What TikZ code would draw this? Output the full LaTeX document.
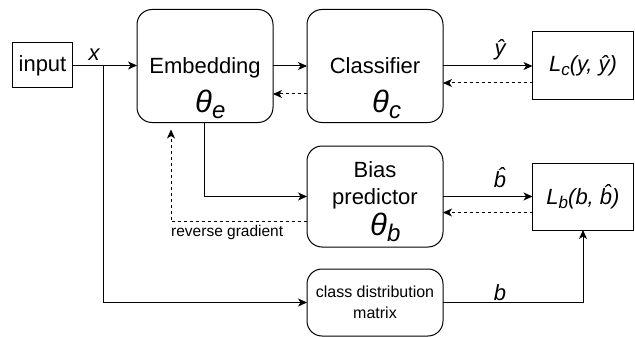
\documentclass[tikz,border=0pt]{standalone}
\usepackage{fontspec}
\setmainfont{Liberation Sans}
\usetikzlibrary{arrows.meta,calc}
\newcommand{\thsub}[1]{\textit{θ}\raisebox{-6pt}{\fontsize{24}{24}\selectfont\textit{#1}}}
\newcommand{\Lsub}[1]{\textit{L}\raisebox{-4pt}{\fontsize{17}{17}\selectfont\textit{#1}}}
\tikzset{
  arr/.style={line width=1pt,-{Stealth[length=9pt,width=8pt,inset=2.5pt]}},
  darr/.style={arr,dash pattern=on 3pt off 3pt},
  sqbox/.style={draw,line width=1pt,inner sep=0pt,outer sep=0pt},
  rbox/.style={sqbox,rounded corners=15pt},
  big/.style={font=\fontsize{22}{26}\selectfont},
  lab/.style={font=\fontsize{22}{26}\selectfont\itshape,inner sep=0pt},
  theta/.style={font=\fontsize{31}{32}\selectfont,inner sep=0pt,anchor=base west},
  small/.style={font=\fontsize{16}{19}\selectfont,inner sep=0pt}
}
\begin{document}
\begin{tikzpicture}[x=1pt,y=-1pt]
\useasboundingbox (0,0) rectangle (635,337);
% boxes
\node[sqbox,big,minimum width=60pt,minimum height=45pt] (input) at (42.5,65.5) {input};
\node[rbox,minimum width=136pt,minimum height=113pt] (emb) at (205,66) {};
\node[rbox,minimum width=136pt,minimum height=113pt] (cls) at (375,66) {};
\node[sqbox,lab,minimum width=101pt,minimum height=68pt] (Lc) at (583,66) {\Lsub{c}(y, ŷ)};
\node[rbox,minimum width=136pt,minimum height=101pt] (bias) at (375,196.5) {};
\node[sqbox,lab,minimum width=101pt,minimum height=67pt] (Lb) at (583,196.5) {\Lsub{b}(b, \^{b})};
\node[rbox,small,align=center,minimum width=136pt,minimum height=67pt] (cdm) at (375,302.5) {class distribution\\[2pt]matrix};
% texts inside boxes
\node[big,inner sep=0pt,anchor=base] (embt) at (205,74) {Embedding};
\node[theta] (embth) at (195,112) {\thsub{e}};
\node[big,inner sep=0pt,anchor=base] (clst) at (375,74) {Classifier};
\node[theta] (clsth) at (372,112) {\thsub{c}};
\node[big,inner sep=0pt,anchor=base] (biast1) at (375,177) {Bias};
\node[big,inner sep=0pt,anchor=base] (biast2) at (375,204) {predictor};
\node[theta] (biasth) at (370,235) {\thsub{b}};
% connectors
\path (input.east) -- (input.east -| emb.west) coordinate[pos=0.473] (xs);
\draw[arr] (input.east) -- (input.east -| emb.west);
\draw[arr] (xs) |- (cdm.west);
\draw[arr] (emb.east) -- (cls.west);
\draw[arr] (cls.east) -- (cls.east -| Lc.west);
\draw[darr] ([yshift=-17pt]Lc.west) -- ([yshift=-17pt]Lc.west -| cls.east);
\draw[darr] ([yshift=-28pt]cls.west) -- ([yshift=-28pt]cls.west -| emb.east);
\draw[arr] ([xshift=-0.5pt]emb.south) |- (bias.west);
\draw[arr] (bias.east) -- (bias.east -| Lb.west);
\draw[darr] ([yshift=-16pt]Lb.west) -- ([yshift=-16pt]Lb.west -| bias.east);
\draw[darr] ([yshift=-25pt]bias.west) -| ([xshift=-34pt,yshift=-7pt]emb.south);
\draw[arr] (cdm.east) -| (Lb.south);
% labels
\node[lab,anchor=base] (xl) at (94,61) {x};
\node[lab,anchor=base] (yhat) at (500,56) {ŷ};
\node[lab,anchor=base] (bhat) at (500,187) {\^{b}};
\node[lab,anchor=base] (bl) at (500,300) {b};
\node[small,anchor=base west,font=\fontsize{15.5}{18}\selectfont] (rg) at (171,236) {reverse gradient};
\end{tikzpicture}
\end{document}
